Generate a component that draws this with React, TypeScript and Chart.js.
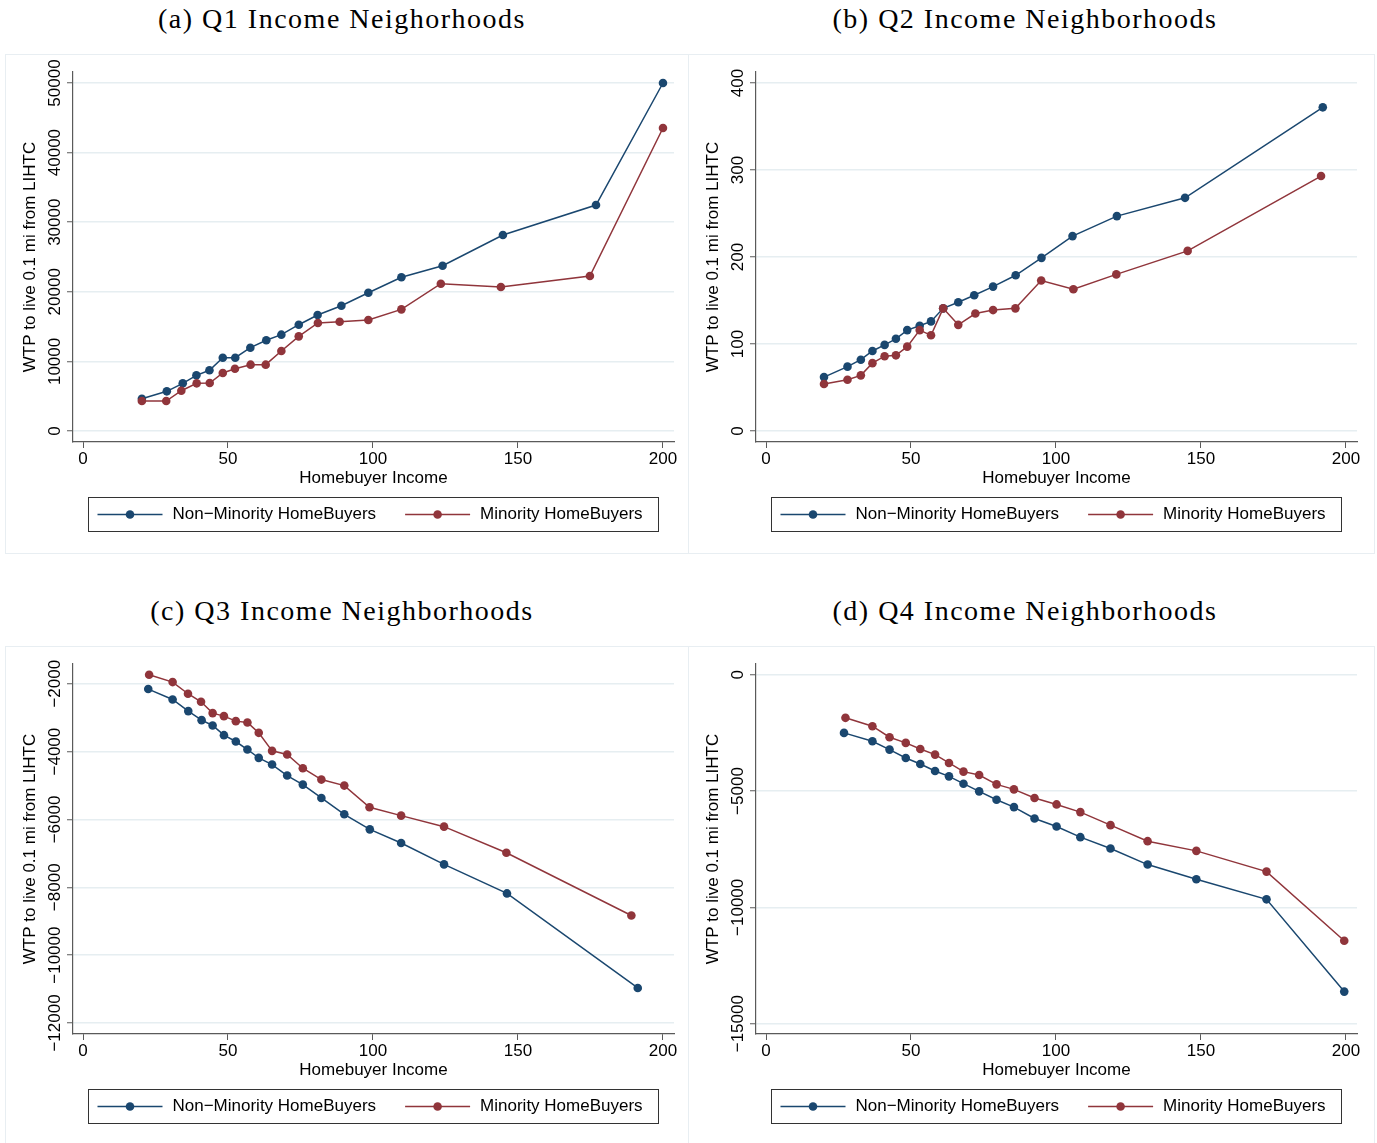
import React, { useEffect, useRef } from 'react';
import { Chart, registerables } from 'chart.js';

Chart.register(...registerables);

// ---------- data ----------
const SERIES_LABELS = ['Non\u2212Minority HomeBuyers', 'Minority HomeBuyers'];
const X_TICKS = [0, 50, 100, 150, 200];
const X_TITLE = 'Homebuyer Income';
const Y_TITLE = 'WTP to live 0.1 mi from LIHTC';
const PANEL_TITLES = [
  '(a) Q1 Income Neighorhoods',
  '(b) Q2 Income Neighborhoods',
  '(c) Q3 Income Neighborhoods',
  '(d) Q4 Income Neighborhoods',
];

const Q1_Y_TICKS = [0, 10000, 20000, 30000, 40000, 50000];
const Q1_NONMIN_X = [20.3, 28.9, 34.4, 39.1, 43.6, 48.2, 52.5, 57.7, 63.2, 68.4, 74.4, 80.9, 89.1, 98.4, 109.8, 124.0, 144.8, 176.9, 200];
const Q1_NONMIN_Y = [4640, 5700, 6850, 8000, 8720, 10530, 10530, 11970, 13030, 13840, 15270, 16670, 18000, 19870, 22080, 23750, 28160, 32470, 50000];
const Q1_MIN_X = [20.3, 28.7, 33.9, 39.2, 43.7, 48.2, 52.4, 57.8, 63.0, 68.4, 74.4, 81.0, 88.5, 98.4, 109.8, 123.4, 144.1, 174.8, 200];
const Q1_MIN_Y = [4310, 4310, 5790, 6850, 6900, 8330, 8950, 9530, 9530, 11490, 13600, 15520, 15700, 15950, 17480, 21160, 20690, 22270, 43530];

const Q2_Y_TICKS = [0, 100, 200, 300, 400];
const Q2_NONMIN_X = [20.0, 28.1, 32.7, 36.7, 40.9, 44.8, 48.7, 53.0, 56.9, 61.1, 66.3, 71.8, 78.3, 86.1, 95.0, 105.7, 121.0, 144.5, 192.0];
const Q2_NONMIN_Y = [62, 74, 82, 92, 99, 106, 116, 121, 126, 141, 148, 156, 166, 179, 199, 224, 247, 268, 372];
const Q2_MIN_X = [20.0, 28.1, 32.7, 36.7, 40.9, 44.8, 48.7, 53.0, 56.9, 61.1, 66.3, 72.2, 78.3, 86.0, 94.9, 106.0, 120.8, 145.4, 191.4];
const Q2_MIN_Y = [54, 59, 64, 78, 86, 87, 97, 116, 110, 141, 122, 135, 139, 141, 173, 163, 180, 207, 293];

const Q3_Y_TICKS = [-12000, -10000, -8000, -6000, -4000, -2000];
const Q3_NONMIN_X = [22.5, 30.9, 36.3, 40.9, 44.7, 48.6, 52.7, 56.7, 60.6, 65.2, 70.4, 75.8, 82.2, 90.1, 98.9, 109.7, 124.5, 146.2, 191.3];
const Q3_NONMIN_Y = [-2157, -2463, -2807, -3073, -3230, -3516, -3703, -3939, -4185, -4382, -4707, -4973, -5367, -5849, -6292, -6695, -7325, -8181, -10967];
const Q3_MIN_X = [22.8, 30.9, 36.2, 40.7, 44.7, 48.6, 52.7, 56.7, 60.6, 65.2, 70.4, 75.8, 82.2, 90.1, 98.8, 109.7, 124.5, 146.0, 189.1];
const Q3_MIN_Y = [-1734, -1951, -2295, -2532, -2866, -2955, -3102, -3142, -3447, -3978, -4087, -4490, -4825, -5002, -5642, -5888, -6213, -6981, -8831];

const Q4_Y_TICKS = [-15000, -10000, -5000, 0];
const Q4_NONMIN_X = [26.9, 36.7, 42.6, 48.2, 53.2, 58.3, 63.1, 68.1, 73.5, 79.5, 85.5, 92.6, 100.2, 108.4, 118.8, 131.6, 148.4, 172.6, 199.4];
const Q4_NONMIN_Y = [-2500, -2859, -3218, -3578, -3836, -4138, -4368, -4684, -5014, -5374, -5690, -6178, -6523, -6983, -7471, -8161, -8793, -9655, -13621];
const Q4_MIN_X = [27.4, 36.7, 42.6, 48.2, 53.2, 58.3, 63.1, 68.1, 73.5, 79.5, 85.5, 92.6, 100.2, 108.4, 118.8, 131.6, 148.4, 172.6, 199.4];
const Q4_MIN_Y = [-1853, -2213, -2687, -2931, -3190, -3434, -3793, -4167, -4310, -4713, -4928, -5302, -5575, -5905, -6466, -7155, -7572, -8463, -11437];

// axis ranges (Stata pads the data range)
const X_RANGE = [-3.45, 203.8];
const Q1_Y_RANGE = [-1580, 51580];
const Q2_Y_RANGE = [-12.6, 412.6];
const Q3_Y_RANGE = [-12325, -1418];
const Q4_Y_RANGE = [-15444, 461];

// ---------- styles ----------
const NAVY = '#1a476f';
const MAROON = '#90353b';
const GRID = '#e6eef1';
const AXIS = '#5a5a5a';
const SANS = '"Liberation Sans", Arial, Helvetica, sans-serif';
const FONT_SIZE = 17;

const fmt = (v: number) => (v < 0 ? '\u2212' + Math.abs(v) : String(v));

const zip = (xs: number[], ys: number[]) => xs.map((x, i) => ({ x, y: ys[i] }));

const stataPlugin = {
  id: 'stataDecor',
  afterDraw(chart: any) {
    const ctx = chart.ctx as CanvasRenderingContext2D;
    const area = chart.chartArea;
    const ys = chart.scales.y;
    ctx.save();
    ctx.font = `${FONT_SIZE}px ${SANS}`;
    ctx.fillStyle = '#000';
    // rotated y tick labels
    ys.ticks.forEach((t: any) => {
      const py = ys.getPixelForValue(t.value);
      ctx.save();
      ctx.translate(area.left - 13, py);
      ctx.rotate(-Math.PI / 2);
      ctx.textAlign = 'center';
      ctx.textBaseline = 'alphabetic';
      ctx.fillText(fmt(t.value), 0, 0);
      ctx.restore();
    });
    // legend
    const items = chart.data.datasets.map((d: any) => ({ label: d.label, color: d.borderColor }));
    const SYM = 65, GAP = 10, ITEM_GAP = 29, PADL = 9, PADR = 16, H = 34;
    const widths = items.map((it: any) => ctx.measureText(it.label).width);
    let total = PADL + PADR + ITEM_GAP * (items.length - 1);
    widths.forEach((w: number) => { total += SYM + GAP + w; });
    const cx = (area.left + area.right) / 2;
    const x0 = Math.round(cx - total / 2) + 0.5;
    const top = Math.round(area.bottom + 55) + 0.5;
    ctx.strokeStyle = '#333';
    ctx.lineWidth = 1;
    ctx.strokeRect(x0, top, Math.round(total), H);
    const cy = top + H / 2;
    let x = x0 + PADL;
    items.forEach((it: any, i: number) => {
      ctx.strokeStyle = it.color;
      ctx.lineWidth = 1.5;
      ctx.beginPath();
      ctx.moveTo(x, cy);
      ctx.lineTo(x + SYM, cy);
      ctx.stroke();
      ctx.fillStyle = it.color;
      ctx.beginPath();
      ctx.arc(x + SYM / 2, cy, 4.3, 0, Math.PI * 2);
      ctx.fill();
      ctx.fillStyle = '#000';
      ctx.textAlign = 'left';
      ctx.textBaseline = 'middle';
      ctx.fillText(it.label, x + SYM + GAP, cy);
      x += SYM + GAP + widths[i] + ITEM_GAP;
    });
    ctx.restore();
  },
};

type PanelProps = {
  left: number;
  top: number;
  frameWidth: number;
  title: string;
  titleCenter: number;
  titleTop: number;
  nonMin: any[];
  min: any[];
  yTicks: number[];
  yRange: number[];
};

const W = 683;
const H = 500;

function Panel(props: PanelProps) {
  const ref = useRef<HTMLCanvasElement | null>(null);
  useEffect(() => {
    if (!ref.current) return;
    const font = { family: SANS, size: FONT_SIZE };
    const chart = new Chart(ref.current, {
      type: 'scatter',
      data: {
        datasets: [
          {
            label: SERIES_LABELS[0],
            data: props.nonMin,
            showLine: true,
            borderColor: NAVY,
            backgroundColor: NAVY,
            pointBackgroundColor: NAVY,
            pointBorderWidth: 0,
            pointRadius: 4.3,
            borderWidth: 1.5,
            order: 1,
          },
          {
            label: SERIES_LABELS[1],
            data: props.min,
            showLine: true,
            borderColor: MAROON,
            backgroundColor: MAROON,
            pointBackgroundColor: MAROON,
            pointBorderWidth: 0,
            pointRadius: 4.3,
            borderWidth: 1.5,
            order: 0,
          },
        ],
      },
      options: {
        animation: false,
        responsive: false,
        events: [],
        layout: { padding: { left: 0, top: 18, right: 14, bottom: 52 } },
        plugins: { legend: { display: false }, tooltip: { enabled: false } },
        scales: {
          x: {
            type: 'linear',
            min: X_RANGE[0],
            max: X_RANGE[1],
            afterBuildTicks: (s: any) => { s.ticks = X_TICKS.map((v) => ({ value: v })); },
            afterFit: (s: any) => { s.height = 60; },
            grid: { drawOnChartArea: false, drawTicks: true, tickLength: 6, tickColor: AXIS, tickWidth: 1 },
            border: { color: AXIS, width: 1.2 },
            ticks: { font, color: '#000', padding: 1, maxRotation: 0, autoSkip: false, callback: (v: any) => fmt(Number(v)) },
            title: { display: true, text: X_TITLE, font, color: '#000', padding: { top: 0, bottom: 13.8 } },
          },
          y: {
            type: 'linear',
            min: props.yRange[0],
            max: props.yRange[1],
            afterBuildTicks: (s: any) => { s.ticks = props.yTicks.map((v) => ({ value: v })); },
            afterFit: (s: any) => { s.width = 68; },
            grid: { color: GRID, lineWidth: 1.5, drawTicks: true, tickLength: 6, tickColor: AXIS, tickWidth: 1 },
            border: { color: AXIS, width: 1.2 },
            ticks: { display: false, callback: (v: any) => fmt(Number(v)) },
            title: { display: true, text: Y_TITLE, font, color: '#000', padding: { top: 15.6, bottom: 0 } },
          },
        },
      } as any,
      plugins: [stataPlugin],
    });
    return () => chart.destroy();
  }, []);

  return (
    <>
      <div
        style={{
          position: 'absolute',
          left: props.titleCenter - 300,
          top: props.titleTop,
          width: 600,
          textAlign: 'center',
          fontFamily: '"Liberation Serif", "Times New Roman", serif',
          fontSize: 28,
          lineHeight: '28px',
          letterSpacing: '1.5px',
          color: '#000',
          whiteSpace: 'nowrap',
        }}
      >
        {props.title}
      </div>
      <canvas
        ref={ref}
        width={W}
        height={H}
        style={{ position: 'absolute', left: props.left, top: props.top, width: W, height: H, display: 'block' }}
      />
      <div
        style={{
          position: 'absolute',
          left: props.left,
          top: props.top,
          width: props.frameWidth,
          height: H,
          boxSizing: 'border-box',
          border: '1px solid #e8eef2',
          pointerEvents: 'none',
        }}
      />
    </>
  );
}

export default function App() {
  return (
    <div style={{ position: 'absolute', left: 0, top: 0, width: 1377, height: 1143, background: '#fff', overflow: 'hidden' }}>
      <Panel left={5} top={54} frameWidth={684} title={PANEL_TITLES[0]} titleCenter={342} titleTop={5}
        nonMin={zip(Q1_NONMIN_X, Q1_NONMIN_Y)} min={zip(Q1_MIN_X, Q1_MIN_Y)} yTicks={Q1_Y_TICKS} yRange={Q1_Y_RANGE} />
      <Panel left={688} top={54} frameWidth={687} title={PANEL_TITLES[1]} titleCenter={1025} titleTop={5}
        nonMin={zip(Q2_NONMIN_X, Q2_NONMIN_Y)} min={zip(Q2_MIN_X, Q2_MIN_Y)} yTicks={Q2_Y_TICKS} yRange={Q2_Y_RANGE} />
      <Panel left={5} top={646} frameWidth={684} title={PANEL_TITLES[2]} titleCenter={342} titleTop={597}
        nonMin={zip(Q3_NONMIN_X, Q3_NONMIN_Y)} min={zip(Q3_MIN_X, Q3_MIN_Y)} yTicks={Q3_Y_TICKS} yRange={Q3_Y_RANGE} />
      <Panel left={688} top={646} frameWidth={687} title={PANEL_TITLES[3]} titleCenter={1025} titleTop={597}
        nonMin={zip(Q4_NONMIN_X, Q4_NONMIN_Y)} min={zip(Q4_MIN_X, Q4_MIN_Y)} yTicks={Q4_Y_TICKS} yRange={Q4_Y_RANGE} />
    </div>
  );
}
